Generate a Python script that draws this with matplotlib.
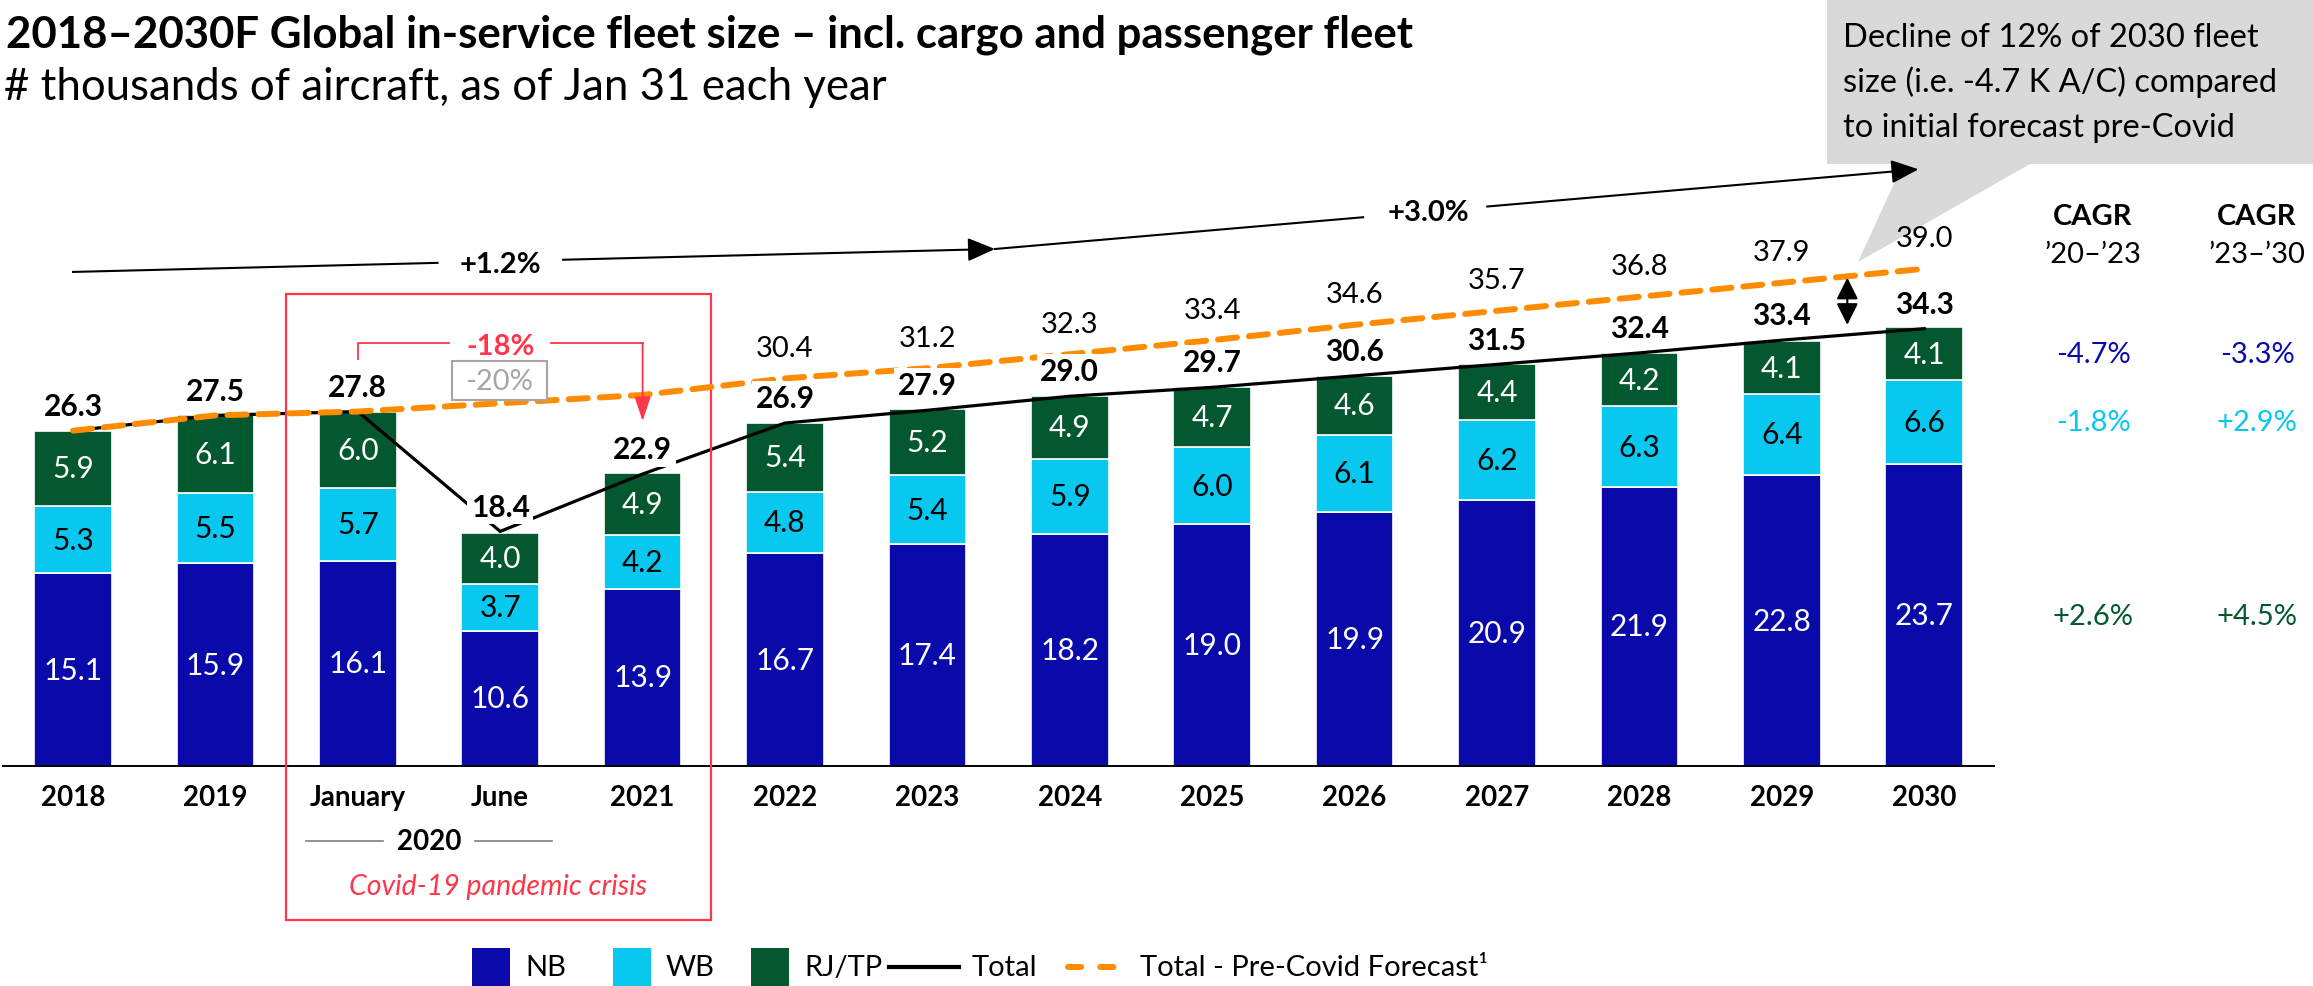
import matplotlib
matplotlib.use('Agg')
import matplotlib.pyplot as plt
from matplotlib.patches import Rectangle, Polygon
from matplotlib.lines import Line2D
import numpy as np

plt.rcParams['font.family'] = ['Lato', 'DejaVu Sans']

# ---------------- data ----------------
categories = ['2018', '2019', 'January', 'June', '2021', '2022', '2023', '2024',
              '2025', '2026', '2027', '2028', '2029', '2030']
nb = [15.1, 15.9, 16.1, 10.6, 13.9, 16.7, 17.4, 18.2, 19.0, 19.9, 20.9, 21.9, 22.8, 23.7]
wb = [5.3, 5.5, 5.7, 3.7, 4.2, 4.8, 5.4, 5.9, 6.0, 6.1, 6.2, 6.3, 6.4, 6.6]
rj = [5.9, 6.1, 6.0, 4.0, 4.9, 5.4, 5.2, 4.9, 4.7, 4.6, 4.4, 4.2, 4.1, 4.1]
total = [26.3, 27.5, 27.8, 18.4, 22.9, 26.9, 27.9, 29.0, 29.7, 30.6, 31.5, 32.4, 33.4, 34.3]
precovid_cats = ['2018', '2019', 'January', '2021', '2022', '2023', '2024', '2025',
                 '2026', '2027', '2028', '2029', '2030']
precovid = [26.3, 27.5, 27.8, 29.1, 30.4, 31.2, 32.3, 33.4, 34.6, 35.7, 36.8, 37.9, 39.0]
precovid_label_from = '2022'
cagr_headers = ['\u201920\u2013\u201923', '\u201923\u2013\u201930']
cagr_rj_row = ['-4.7%', '-3.3%']
cagr_wb_row = ['-1.8%', '+2.9%']
cagr_nb_row = ['+2.6%', '+4.5%']
growth_labels = ['+1.2%', '+3.0%']

C_NB = '#0a0aab'
C_WB = '#08c8f0'
C_RJ = '#03582f'
C_OR = '#ff8c00'
C_RED = '#ff3549'

W, H = 2313, 987
fig = plt.figure(figsize=(W / 100, H / 100), dpi=100)
ax = fig.add_axes([0, 0, 1, 1])
X0, DX, Y0, DY = 73.0, 142.4, 767.0, 12.75
ax.set_xlim(-X0 / DX, (W - X0) / DX)
ax.set_ylim(-(H - Y0) / DY, Y0 / DY)
ax.axis('off')

def F(xp, yp):
    return (xp / W, 1 - yp / H)

FS = 21  # general label size

x = np.arange(len(categories))
bw = 0.545
nb_a, wb_a, rj_a = map(np.array, (nb, wb, rj))
ax.bar(x, nb_a, bw, color=C_NB, edgecolor='white', linewidth=1.2, zorder=2)
ax.bar(x, wb_a, bw, bottom=nb_a, color=C_WB, edgecolor='white', linewidth=1.2, zorder=2)
ax.bar(x, rj_a, bw, bottom=nb_a + wb_a, color=C_RJ, edgecolor='white', linewidth=1.2, zorder=2)

seg_fs = 21.5
for i in range(len(x)):
    ax.text(x[i], nb_a[i] / 2, f'{nb[i]:.1f}', ha='center', va='center', color='white', fontsize=seg_fs, zorder=5)
    ax.text(x[i], nb_a[i] + wb_a[i] / 2, f'{wb[i]:.1f}', ha='center', va='center', color='black', fontsize=seg_fs, zorder=5)
    ax.text(x[i], nb_a[i] + wb_a[i] + rj_a[i] / 2, f'{rj[i]:.1f}', ha='center', va='center', color='white', fontsize=seg_fs, zorder=5)

# baseline
ax.plot([-0.5, 13.5], [0, 0], color='black', lw=1.4, zorder=3, solid_capstyle='butt')

# total line
ax.plot(x, total, color='black', lw=2.3, zorder=3, solid_joinstyle='miter')
# pre-covid forecast
px_idx = np.array([categories.index(c) for c in precovid_cats])
ax.plot(px_idx, precovid, color=C_OR, lw=4.3, dashes=(3.2, 2.0), dash_capstyle='round', zorder=4)

for i in range(len(x)):
    ax.text(x[i], total[i] + 1.95, f'{total[i]:.1f}', ha='center', va='center', fontsize=FS + 0.5,
            fontweight='bold', zorder=6,
            bbox=dict(boxstyle='square,pad=0.12', fc='white', ec='none'))
start = precovid_cats.index(precovid_label_from)
for c, v in zip(precovid_cats[start:], precovid[start:]):
    ax.text(categories.index(c), v + 2.4, f'{v:.1f}', ha='center', va='center', fontsize=FS, zorder=6)

# x tick labels
for i, c in enumerate(categories):
    ax.text(i, -2.43, c, ha='center', va='center', fontsize=20, fontweight='bold')
ax.text(2.5, -5.88, '2020', ha='center', va='center', fontsize=20, fontweight='bold')
ax.plot([1.636, 2.177], [-5.88, -5.88], color='#7f7f7f', lw=1.2)
ax.plot([2.823, 3.364], [-5.88, -5.88], color='#7f7f7f', lw=1.2)
ax.text(2.985, -9.41, 'Covid-19 pandemic crisis', ha='center', va='center', fontsize=20.5,
        style='italic', color=C_RED)

# covid box
ax.add_patch(Rectangle((1.496, -12.08), 4.48 - 1.496, 37.0 + 12.08, fill=False,
                       ec=C_RED, lw=1.6, zorder=3))

# -18% bracket
ax.plot([2, 2, 2.64], [31.9, 33.2, 33.2], color=C_RED, lw=1.3, zorder=5)
ax.plot([3.36, 4.0], [33.2, 33.2], color=C_RED, lw=1.3, zorder=5)
ax.annotate('', xy=(4.0, 27.06), xytext=(4.0, 33.2),
            arrowprops=dict(arrowstyle='-|>,head_length=0.75,head_width=0.25', color=C_RED,
                            lw=1.3, mutation_scale=20, shrinkA=0, shrinkB=0), zorder=5)
ax.text(3.0, 32.94, '-18%', ha='center', va='center', fontsize=FS, fontweight='bold', color=C_RED, zorder=6)
ax.add_patch(Rectangle((2.66, 28.7), 0.67, 3.06, fc='white', ec='#a6a6a6', lw=1.5, zorder=5))
ax.text(2.995, 30.2, '-20%', ha='center', va='center', fontsize=FS, color='#a6a6a6', zorder=6)

# growth arrows
def growth(p0, p1, g0, g1, label, tx, ty):
    (xa, ya), (xb, yb) = p0, p1
    yy = lambda xx: ya + (yb - ya) * (xx - xa) / (xb - xa)
    ax.plot([xa, g0], [ya, yy(g0)], color='black', lw=1.5, zorder=5)
    ax.annotate('', xy=(xb, yb), xytext=(g1, yy(g1)),
                arrowprops=dict(arrowstyle='-|>,head_length=0.7,head_width=0.3', color='black',
                                lw=1.5, mutation_scale=24, shrinkA=0, shrinkB=0), zorder=5)
    ax.text(tx, ty, label, ha='center', va='center', fontsize=FS, fontweight='bold', zorder=6)

growth((0, 38.75), (6.475, 40.55), 2.56, 3.44, growth_labels[0], 3.0, 39.4)
growth((6.475, 40.55), (12.96, 46.8), 9.06, 9.93, growth_labels[1], 9.52, 43.45)

# double arrow
ax.annotate('', xy=(12.46, 38.3), xytext=(12.46, 34.6),
            arrowprops=dict(arrowstyle='<|-|>,head_length=0.6,head_width=0.3', color='black',
                            lw=1.5, mutation_scale=22, shrinkA=0, shrinkB=0), zorder=6)

# callout
def d(xp, yp):
    return ((xp - X0) / DX, (Y0 - yp) / DY)
call = Polygon([d(1827, -5), d(W + 5, -5), d(W + 5, 165), d(2030, 165), d(1858, 263),
                d(1903, 165), d(1827, 165)], closed=True, fc='#d9d9d9', ec='none', zorder=1)
ax.add_patch(call)
for txt, yp in zip(['Decline of 12% of 2030 fleet', 'size (i.e. -4.7 K A/C) compared',
                    'to initial forecast pre-Covid'], [38, 82, 128]):
    fig.text(*F(1843, yp), txt, ha='left', va='center', fontsize=23.5)

# CAGR columns
for xp, hdr, r1, r2, r3 in zip([2093, 2257], cagr_headers, cagr_rj_row, cagr_wb_row, cagr_nb_row):
    fig.text(*F(xp, 217), 'CAGR', ha='center', va='center', fontsize=FS, fontweight='bold')
    fig.text(*F(xp, 255), hdr, ha='center', va='center', fontsize=FS)
    fig.text(*F(xp, 355), r1, ha='center', va='center', fontsize=FS, color=C_NB)
    fig.text(*F(xp, 423), r2, ha='center', va='center', fontsize=FS, color=C_WB)
    fig.text(*F(xp, 617), r3, ha='center', va='center', fontsize=FS, color=C_RJ)

# title
fig.text(*F(6, 35), '2018\u20132030F Global in-service fleet size \u2013 incl. cargo and passenger fleet',
         ha='left', va='center', fontsize=31.5, fontweight='bold')
fig.text(*F(4, 88), '# thousands of aircraft, as of Jan 31 each year', ha='left', va='center', fontsize=31.5)

# legend (manual)
ly = 968
for (x0, col, lab) in [(472, C_NB, 'NB'), (613, C_WB, 'WB'), (751, C_RJ, 'RJ/TP')]:
    fig.patches.append(Rectangle(F(x0, ly + 19), 38 / W, 38 / H, transform=fig.transFigure,
                                 fc=col, ec='none'))
    fig.text(*F(x0 + 53, ly), lab, ha='left', va='center', fontsize=FS)
fig.lines.append(Line2D([889 / W, 959 / W], [1 - ly / H] * 2, transform=fig.transFigure,
                        color='black', lw=3))
fig.text(*F(972, ly), 'Total', ha='left', va='center', fontsize=FS)
fig.lines.append(Line2D([1068 / W, 1124 / W], [1 - ly / H] * 2, transform=fig.transFigure,
                        color=C_OR, lw=4.3, dashes=(2.2, 3.2), dash_capstyle='round'))
fig.text(*F(1140, ly), 'Total - Pre-Covid Forecast\u00b9', ha='left', va='center', fontsize=FS)

fig.savefig('out.png', dpi=100)
